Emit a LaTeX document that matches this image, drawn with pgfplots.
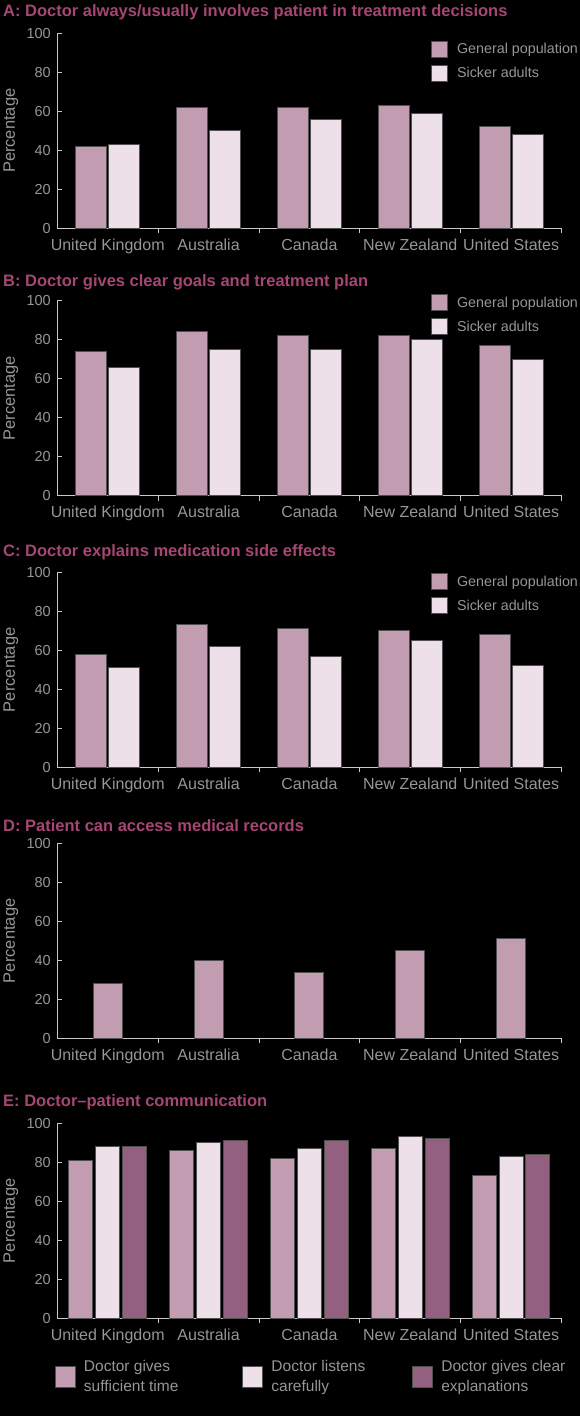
\documentclass[border=0pt]{standalone}
\usepackage{fontspec}
\setmainfont{Liberation Sans}
\usepackage{pgfplots}
\pgfplotsset{compat=1.18}
\definecolor{gp}{RGB}{194,157,177}
\definecolor{sa}{RGB}{237,224,232}
\definecolor{dk}{RGB}{147,96,127}
\definecolor{ttl}{RGB}{165,70,115}
\definecolor{txt}{RGB}{150,150,150}
\definecolor{axc}{RGB}{200,200,200}
\definecolor{edge}{RGB}{80,80,80}
\newcommand{\ttlfont}{\fontsize{16.5}{19}\selectfont\bfseries}
\pgfplotsset{
  panel/.style={
    scale only axis, width=504.2pt, height=195pt,
    anchor=south west,
    xmin=-0.5, xmax=4.5, ymin=0, ymax=100,
    enlargelimits=false,
    axis x line*=bottom, axis y line*=left,
    axis line style={axc, line width=0.9pt, -},
    tick align=inside,
    major tick length=5pt,
    ytick={0,20,...,100},
    xtick={0.5,1.5,2.5,3.5,4.5},
    xticklabels={},
    tick style={axc, line width=0.9pt},
    extra x ticks={0,1,2,3,4},
    extra x tick labels={United Kingdom,Australia,Canada,New Zealand,United States},
    extra x tick style={major tick length=0pt, tick style={draw=none}},
    /pgf/number format/assume math mode=true,
    yticklabel style={font=\fontsize{14.5}{17}\selectfont, text=txt, xshift=-3pt},
    xticklabel style={font=\fontsize{16}{18}\selectfont, text=txt, yshift=-7pt},
    ylabel={Percentage},
    ylabel style={at={(axis description cs:-0.0919,0.5)}, anchor=center,
      font=\fontsize{16.5}{19}\selectfont, text=txt},
    every axis plot/.append style={draw=edge, line width=1pt},
  },
  leg2/.style={
    legend image code/.code={\draw[##1] (0pt,-8pt) rectangle (16pt,8pt);},
    legend style={at={(axis description cs:#1)}, anchor=north west,
      draw=none, fill=none, text=txt, inner sep=0pt,
      font=\fontsize{14.3}{16}\selectfont,
      nodes={inner sep=0pt}, cells={anchor=west},
      row sep=7pt,
      /tikz/every odd column/.append style={column sep=9pt}},
  },
}
\begin{document}
\begin{tikzpicture}
\useasboundingbox (0,0) rectangle (580pt,-1416pt);
\fill[black] (0,0) rectangle (580pt,-1416pt);

% ---------- A ----------
\node[anchor=base west, text=ttl, font=\ttlfont, inner sep=0pt] at (3pt,-16.7pt)
  {A: Doctor always/usually involves patient in treatment decisions};
\begin{axis}[panel, at={(57.3pt,-228.3pt)}, ybar=2pt, bar width=31pt, leg2={0.741,0.962}]
\addplot[fill=gp] coordinates {(0,42) (1,62) (2,62) (3,63) (4,52)};
\addplot[fill=sa] coordinates {(0,43) (1,50) (2,56) (3,59) (4,48)};
\legend{General population, Sicker adults}
\end{axis}

% ---------- B ----------
\node[anchor=base west, text=ttl, font=\ttlfont, inner sep=0pt] at (3pt,-286.7pt)
  {B: Doctor gives clear goals and treatment plan};
\begin{axis}[panel, at={(57.3pt,-495.7pt)}, ybar=2pt, bar width=31pt, leg2={0.741,1.035}]
\addplot[fill=gp] coordinates {(0,74) (1,84) (2,82) (3,82) (4,77)};
\addplot[fill=sa] coordinates {(0,66) (1,75) (2,75) (3,80) (4,70)};
\legend{General population, Sicker adults}
\end{axis}

% ---------- C ----------
\node[anchor=base west, text=ttl, font=\ttlfont, inner sep=0pt] at (3pt,-556.7pt)
  {C: Doctor explains medication side effects};
\begin{axis}[panel, at={(57.3pt,-767.3pt)}, ybar=2pt, bar width=31pt, leg2={0.741,0.995}]
\addplot[fill=gp] coordinates {(0,58) (1,73) (2,71) (3,70) (4,68)};
\addplot[fill=sa] coordinates {(0,51) (1,62) (2,57) (3,65) (4,52)};
\legend{General population, Sicker adults}
\end{axis}

% ---------- D ----------
\node[anchor=base west, text=ttl, font=\ttlfont, inner sep=0pt] at (3pt,-831.7pt)
  {D: Patient can access medical records};
\begin{axis}[panel, at={(57.3pt,-1038.3pt)}, ybar=0pt, bar width=29pt]
\addplot[fill=gp] coordinates {(0,28) (1,40) (2,34) (3,45) (4,51)};
\end{axis}

% ---------- E ----------
\node[anchor=base west, text=ttl, font=\ttlfont, inner sep=0pt] at (3pt,-1106.7pt)
  {E: Doctor–patient communication};
\begin{axis}[panel, at={(57.3pt,-1318.3pt)}, ybar=2.8pt, bar width=24pt,
  legend image code/.code={\draw[#1] (0pt,-10.5pt) rectangle (20pt,10.5pt);},
  legend columns=3,
  legend style={at={(axis description cs:-0.005,-0.216)}, anchor=north west,
    draw=none, fill=none, text=txt, inner sep=0pt,
    font=\fontsize{15.5}{20}\selectfont,
    nodes={inner sep=0pt, align=left}, cells={anchor=west},
    /tikz/every odd column/.append style={column sep=8pt},
    /tikz/column 2/.append style={column sep=64pt},
    /tikz/column 4/.append style={column sep=47pt}},
]
\addplot[fill=gp] coordinates {(0,81) (1,86) (2,82) (3,87) (4,73)};
\addplot[fill=sa] coordinates {(0,88) (1,90) (2,87) (3,93) (4,83)};
\addplot[fill=dk] coordinates {(0,88) (1,91) (2,91) (3,92) (4,84)};
\legend{{Doctor gives\\sufficient time}, {Doctor listens\\carefully}, {Doctor gives clear\\explanations}}
\end{axis}
\end{tikzpicture}
\end{document}
